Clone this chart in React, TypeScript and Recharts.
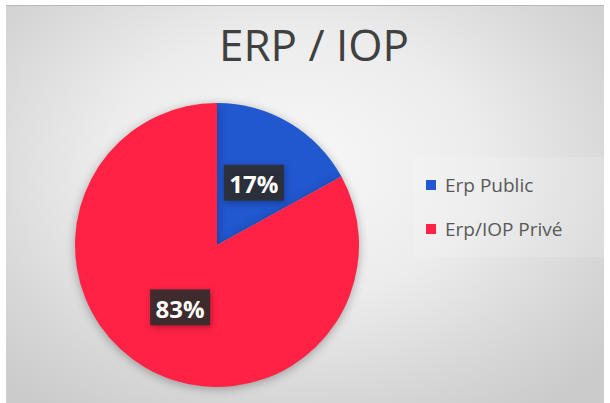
import React from "react"
import { PieChart, Pie, Cell, Legend } from "recharts"

const categories = ["Erp Public", "Erp/IOP Privé"]
const shares = [17, 83]
const colors = ["#2157cf", "#ff2244"]
const title = "ERP / IOP"

const data = categories.map((name, i) => ({ name, value: shares[i] }))

const RAD = Math.PI / 180

const renderLabel = (props: any) => {
  const { cx, cy, midAngle, outerRadius, percent } = props
  const r = outerRadius * 0.51
  const x = cx + r * Math.cos(-midAngle * RAD)
  const y = cy + r * Math.sin(-midAngle * RAD)
  const text = `${Math.round(percent * 100)}%`
  return (
    <g>
      <rect
        x={x - 30}
        y={y - 18}
        width={60}
        height={36}
        fill="#2e2e2e"
        fillOpacity={0.88}
        style={{ filter: "drop-shadow(1px 2px 3px rgba(0,0,0,0.35))" }}
      />
      <text
        x={x}
        y={y + 1}
        fill="#ffffff"
        textAnchor="middle"
        dominantBaseline="central"
        fontFamily="Open Sans, sans-serif"
        fontWeight={700}
        fontSize={24}
      >
        {text}
      </text>
    </g>
  )
}

const renderLegend = () => (
  <div
    style={{
      background: "rgba(255,255,255,0.15)",
      padding: "6px 12px",
      width: 166,
      fontFamily: "Open Sans, sans-serif",
      fontSize: 19,
      color: "#595959",
    }}
  >
    {categories.map((c, i) => (
      <div
        key={c}
        style={{
          display: "flex",
          alignItems: "center",
          height: 44,
        }}
      >
        <span
          style={{
            width: 10,
            height: 10,
            background: colors[i],
            marginRight: 9,
            display: "inline-block",
          }}
        />
        {c}
      </div>
    ))}
  </div>
)

export default function App() {
  return (
    <div style={{ position: "relative", width: 610, height: 403, background: "#ffffff" }}>
      <style>{"body{margin:0}"}</style>
      <div
        style={{
          position: "absolute",
          left: 6,
          top: 5,
          width: 598,
          height: 398,
          borderTop: "1px solid #b8b8b8",
          background:
            "radial-gradient(ellipse 70% 75% at 48% 40%, #f8f8f8 0%, #ececec 45%, #d6d6d6 80%, #cbcbcb 100%)",
        }}
      />
      <div
        style={{
          position: "absolute",
          left: 0,
          top: 14,
          width: 628,
          textAlign: "center",
          fontFamily: "Open Sans, sans-serif",
          fontSize: 44,
          color: "#404040",
        }}
      >
        {title}
      </div>
      <div style={{ position: "absolute", left: 0, top: 0 }}>
        <style>{".recharts-pie-sector{filter:drop-shadow(0px 2px 5px rgba(0,0,0,0.3))}"}</style>
        <PieChart width={610} height={403} margin={{ top: 0, right: 0, bottom: 0, left: 0 }}>
          <Pie
            data={data}
            dataKey="value"
            nameKey="name"
            cx={217}
            cy={245}
            outerRadius={142}
            startAngle={90}
            endAngle={-270}
            stroke="none"
            label={renderLabel}
            labelLine={false}
            isAnimationActive={false}
          >
            {data.map((d, i) => (
              <Cell key={d.name} fill={colors[i]} />
            ))}
          </Pie>
          <Legend
            content={renderLegend}
            wrapperStyle={{ position: "absolute", left: 414, top: 157, width: 190 }}
          />
        </PieChart>
      </div>
    </div>
  )
}
